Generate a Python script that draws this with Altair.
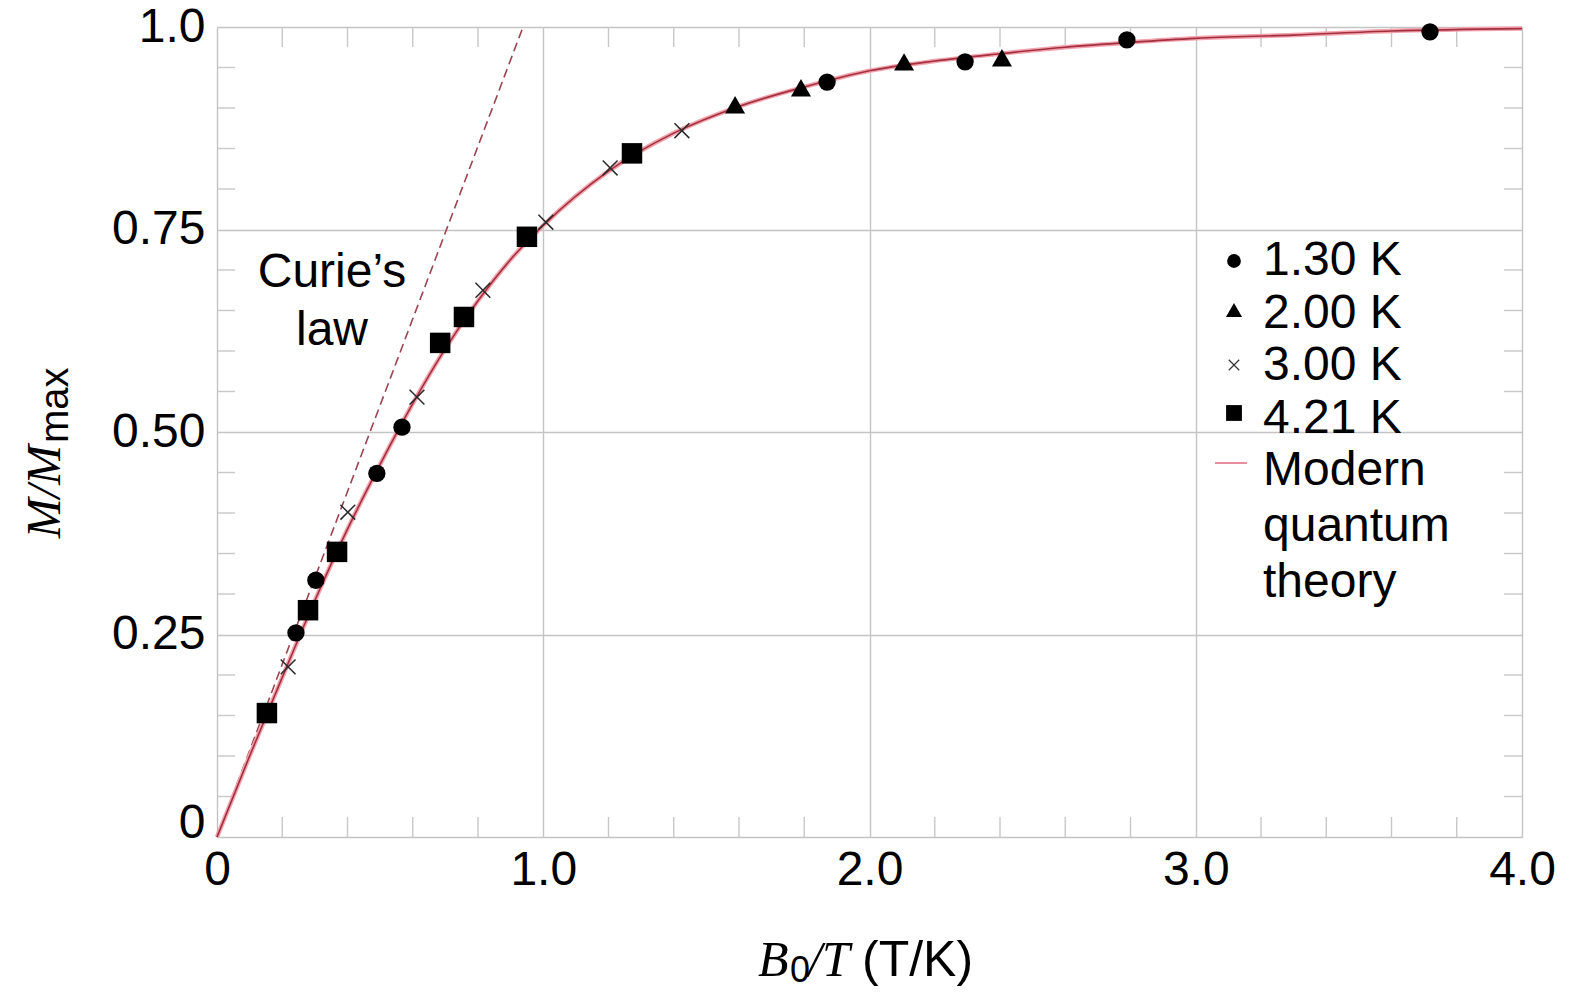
import altair as alt
import pandas as pd

# Measured magnetisation M/Mmax against B0/T, one pair of lists per temperature
t130_x = [0.242, 0.303, 0.490, 0.567, 1.870, 2.293, 2.789, 3.718]
t130_y = [0.252, 0.317, 0.449, 0.506, 0.932, 0.957, 0.984, 0.994]
t200_x = [1.588, 1.790, 2.106, 2.406]
t200_y = [0.904, 0.925, 0.957, 0.962]
t300_x = [0.218, 0.401, 0.613, 0.815, 1.008, 1.205, 1.425]
t300_y = [0.210, 0.401, 0.543, 0.675, 0.759, 0.826, 0.872]
t421_x = [0.153, 0.279, 0.368, 0.684, 0.757, 0.950, 1.272]
t421_y = [0.153, 0.280, 0.352, 0.610, 0.642, 0.741, 0.844]

# Quantum-theory curve and Curie's-law line
theory_x = [0.0, 0.1, 0.2, 0.3, 0.4, 0.5, 0.6, 0.7, 0.8, 0.9, 1.0, 1.2, 1.4,
            1.6, 1.8, 2.0, 2.2, 2.4, 2.6, 2.8, 3.0, 3.3, 3.6, 4.0]
theory_y = [0.0, 0.100, 0.197, 0.292, 0.380, 0.460, 0.535, 0.603, 0.662,
            0.713, 0.755, 0.822, 0.869, 0.902, 0.926, 0.946, 0.958, 0.967,
            0.975, 0.981, 0.986, 0.990, 0.995, 0.998]
curie_x = [0.0, 0.938]
curie_y = [0.0, 1.0]

# Axis ticks
x_major = [0, 1, 2, 3, 4]
y_major = [0, 0.25, 0.5, 0.75, 1.0]
x_minor = [0.2, 0.4, 0.6, 0.8, 1.2, 1.4, 1.6, 1.8, 2.2, 2.4, 2.6, 2.8,
           3.2, 3.4, 3.6, 3.8]
y_minor = [0.05, 0.10, 0.15, 0.20, 0.30, 0.35, 0.40, 0.45, 0.55, 0.60,
           0.65, 0.70, 0.80, 0.85, 0.90, 0.95]

legend_labels = ["1.30 K", "2.00 K", "3.00 K", "4.21 K"]
theory_label = ["Modern", "quantum", "theory"]
curie_label = ["Curie\u2019s", "law"]

W, H = 1305, 810
SANS = "Liberation Sans"
SERIF = "Liberation Serif"
FS = 48
CROSS = "M-1,-1L1,1M-1,1L1,-1"

xs = alt.Scale(domain=[0, 4], nice=False, zero=False)
ys = alt.Scale(domain=[0, 1], nice=False, zero=False)

x_axis = alt.Axis(values=x_major, grid=True, gridColor="#c4c4c4", gridWidth=1.4,
                  ticks=False, domain=False, labelFont=SANS, labelFontSize=FS,
                  labelColor="black", labelPadding=9, title=None,
                  labelFlush=False, labelBound=False, labelOverlap=False,
                  labelExpr="datum.value == 0 ? '0' : format(datum.value, '.1f')")
y_axis = alt.Axis(values=y_major, grid=True, gridColor="#c4c4c4", gridWidth=1.4,
                  ticks=False, domain=False, labelFont=SANS, labelFontSize=FS,
                  labelColor="black", labelPadding=12, title=None,
                  labelFlush=False, labelBound=False, labelOverlap=False,
                  labelBaseline={"condition": {"test": "datum.value == 0", "value": "alphabetic"},
                                 "value": "middle"},
                  labelExpr="datum.value == 0 ? '0' : datum.value == 1 ? '1.0' : format(datum.value, '.2f')")


def series(xv, yv):
    return pd.DataFrame({"x": xv, "y": yv})


base_axes = alt.Chart(series(theory_x, theory_y)).mark_line(opacity=0).encode(
    x=alt.X("x:Q", scale=xs, axis=x_axis),
    y=alt.Y("y:Q", scale=ys, axis=y_axis),
)

# inward minor ticks on all four sides
tick_color = "#c8c8c8"
mx = pd.DataFrame({"v": x_minor})
my = pd.DataFrame({"v": y_minor})
ticks_bottom = alt.Chart(mx).mark_rule(color=tick_color, strokeWidth=1.4).encode(
    x=alt.X("v:Q", scale=xs), y=alt.value(H), y2=alt.value(H - 20))
ticks_top = alt.Chart(mx).mark_rule(color=tick_color, strokeWidth=1.4).encode(
    x=alt.X("v:Q", scale=xs), y=alt.value(0), y2=alt.value(20))
ticks_left = alt.Chart(my).mark_rule(color=tick_color, strokeWidth=1.4).encode(
    y=alt.Y("v:Q", scale=ys), x=alt.value(0), x2=alt.value(18))
ticks_right = alt.Chart(my).mark_rule(color=tick_color, strokeWidth=1.4).encode(
    y=alt.Y("v:Q", scale=ys), x=alt.value(W), x2=alt.value(W - 18))

curie = alt.Chart(series(curie_x, curie_y)).mark_line(
    color="#9c4452", strokeWidth=1.6, strokeDash=[9, 5]).encode(
    x=alt.X("x:Q", scale=xs), y=alt.Y("y:Q", scale=ys))

theory_halo = alt.Chart(series(theory_x, theory_y)).mark_line(
    color="#f2a3ae", strokeWidth=4.5, interpolate="monotone").encode(
    x=alt.X("x:Q", scale=xs), y=alt.Y("y:Q", scale=ys))
theory_core = alt.Chart(series(theory_x, theory_y)).mark_line(
    color="#a3303f", strokeWidth=1.6, interpolate="monotone").encode(
    x=alt.X("x:Q", scale=xs), y=alt.Y("y:Q", scale=ys))


def points(xv, yv, shape, size, filled=True):
    kw = dict(shape=shape, size=size, opacity=1)
    if filled:
        kw.update(filled=True, color="black")
    else:
        kw.update(filled=False, stroke="#2a2a2a", strokeWidth=1.5)
    return alt.Chart(series(xv, yv)).mark_point(**kw).encode(
        x=alt.X("x:Q", scale=xs), y=alt.Y("y:Q", scale=ys))


p130 = points(t130_x, t130_y, "circle", 300)
p200 = points(t200_x, t200_y, "triangle-up", 400)
p300 = points(t300_x, t300_y, CROSS, 220, filled=False)
p421 = points(t421_x, t421_y, "square", 420)


def label(text, x, y, align="left", font=SANS, size=FS, style="normal", angle=0):
    kw = dict(align=align, baseline="alphabetic", font=font, fontSize=size,
              fontStyle=style, color="black")
    if angle:
        kw["angle"] = angle
    return alt.Chart(pd.DataFrame({"t": [text]})).mark_text(**kw).encode(
        text="t:N", x=alt.value(x), y=alt.value(y))


def symbol(x, y, shape, size, filled=True):
    kw = dict(shape=shape, size=size, opacity=1)
    if filled:
        kw.update(filled=True, color="black")
    else:
        kw.update(filled=False, stroke="#333333", strokeWidth=1.2)
    return alt.Chart(pd.DataFrame({"k": [0]})).mark_point(**kw).encode(
        x=alt.value(x), y=alt.value(y))


# legend block
LX_SYM, LX_TXT = 1017, 1046
legend = [
    symbol(LX_SYM, 234, "circle", 190),
    symbol(LX_SYM, 283, "triangle-up", 260),
    symbol(LX_SYM, 338, CROSS, 110, filled=False),
    symbol(LX_SYM, 386, "square", 250),
    alt.Chart(pd.DataFrame({"k": [0]})).mark_rule(color="#e06a80", strokeWidth=1.5).encode(
        x=alt.value(998), x2=alt.value(1030), y=alt.value(436)),
]
for i, lab in enumerate(legend_labels):
    legend.append(label(lab, LX_TXT, 248 + 52.5 * i))
for i, lab in enumerate(theory_label):
    legend.append(label(lab, LX_TXT, 458 + 56 * i))

curie_text = [label(curie_label[0], 115, 260, align="center"),
              label(curie_label[1], 115, 318, align="center")]

# axis titles built from pieces (italic symbols, subscripts)
titles = [
    label("M/M", -157, 418, align="right", font=SERIF, size=48, style="italic", angle=270),
    label("max", -149, 416, align="left", font=SANS, size=40, angle=270),
    label("B", 541, 949, font=SERIF, size=50, style="italic"),
    label("0", 573, 955, font=SANS, size=36),
    label("/T", 591, 949, font=SERIF, size=50, style="italic"),
    label("(T/K)", 645, 949, font=SANS, size=50),
]

chart = alt.layer(
    base_axes, ticks_bottom, ticks_top, ticks_left, ticks_right,
    curie, theory_halo, theory_core, p300, p421, p130, p200,
    *legend, *curie_text, *titles,
).properties(
    width=W, height=H,
    autosize=alt.AutoSizeParams(type="none"),
    padding={"left": 217, "top": 27, "right": 48, "bottom": 156},
).configure_view(stroke="#bcbcbc", strokeWidth=1.4).configure(background="white")

chart.save("out.html", embed_options={"renderer": "svg", "actions": False})
